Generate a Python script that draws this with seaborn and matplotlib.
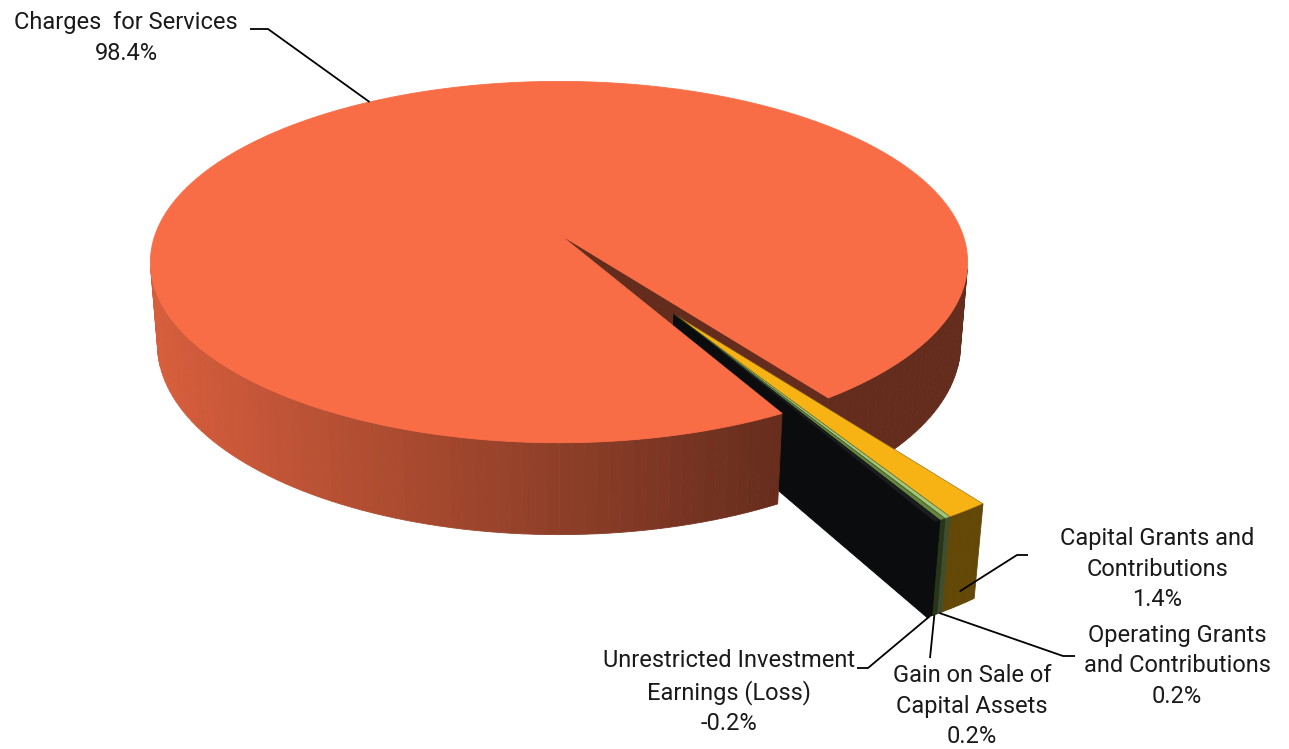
import numpy as np
import matplotlib
matplotlib.use("Agg")
import matplotlib.pyplot as plt
import seaborn as sns
from matplotlib.patches import Polygon
from matplotlib.colors import to_rgb

# ---------------- data ----------------
categories = ["Charges  for Services",
              "Capital Grants and\nContributions",
              "Operating Grants\nand Contributions",
              "Gain on Sale of\nCapital Assets",
              "Unrestricted Investment\nEarnings (Loss)"]
values = [98.4, 1.4, 0.2, 0.2, -0.2]
pct_labels = ["98.4%", "1.4%", "0.2%", "0.2%", "-0.2%"]
colors = ["#F96D46", "#F7B314", "#A3C576", "#66853F", "#1B1D20"]
exploded = [False, True, True, True, True]

# ---------------- style ----------------
sns.set_theme(style="white")
plt.rcParams["font.family"] = ["Roboto", "DejaVu Sans"]

W, H = 1289, 749
fig = plt.figure(figsize=(W / 100, H / 100), dpi=100)
ax = fig.add_axes([0, 0, 1, 1])
ax.set_xlim(0, W)
ax.set_ylim(H, 0)
ax.axis("off")

# ---------------- 3D pie geometry ----------------
elev = np.deg2rad(25.9)
Dcam = 5.79
focal = 2337.0
x0, y0 = 559.0, 234.0
thick = 0.228
explode_dist = 0.50
start_angle = 61.5  # degrees, clockwise on screen

ce, se = np.cos(elev), np.sin(elev)
C = np.array([0.0, Dcam * ce, Dcam * se])
w_ax = np.array([0.0, -ce, -se])
u_ax = np.array([1.0, 0.0, 0.0])
v_ax = np.array([0.0, -se, ce])


def project(P):
    P = np.atleast_2d(P)
    d = P - C
    depth = d @ w_ax
    sx = focal * (d @ u_ax) / depth
    sy = focal * (d @ v_ax) / depth
    return np.column_stack([x0 + sx, y0 - sy])


absvals = np.abs(np.array(values))
spans = absvals / absvals.sum() * 360.0
a_start = start_angle + np.concatenate([[0], np.cumsum(spans)[:-1]])
a_end = a_start + spans

# common explode direction for the exploded group
ex_idx = [i for i, e in enumerate(exploded) if e]
grp_mid = np.deg2rad((a_start[ex_idx[0]] + a_end[ex_idx[-1]]) / 2.0)
offsets = []
for i in range(len(values)):
    if exploded[i]:
        offsets.append(explode_dist * np.array([np.cos(grp_mid), np.sin(grp_mid), 0.0]))
    else:
        offsets.append(np.zeros(3))


def shade(rgb, k):
    return tuple(np.clip(np.array(rgb) * k, 0, 1))


def wall_k(xpix):
    return float(np.clip(0.86 - 0.45 * (xpix - 160) / (783 - 160), 0.40, 0.88))


walls = []   # (distance, polygon pixels, color)
tops = []
for i in range(len(values)):
    base = to_rgb(colors[i])
    o = offsets[i]
    a0, a1 = np.deg2rad(a_start[i]), np.deg2rad(a_end[i])
    n = max(4, int(np.ceil((a_end[i] - a_start[i]) / 1.5)))
    ang = np.linspace(a0, a1, n + 1)
    rim_top = np.column_stack([np.cos(ang), np.sin(ang), np.zeros_like(ang)]) + o
    rim_bot = rim_top - np.array([0, 0, thick])
    # top face
    top_pts = np.vstack([o, rim_top])
    tops.append((project(top_pts), base))
    # outer wall
    for j in range(n):
        quad = np.array([rim_top[j], rim_top[j + 1], rim_bot[j + 1], rim_bot[j]])
        cen = quad.mean(axis=0)
        am = (ang[j] + ang[j + 1]) / 2
        nrm = np.array([np.cos(am), np.sin(am), 0.0])
        if nrm @ (C - cen) <= 0:
            continue
        pq = project(quad)
        k = wall_k(pq[:, 0].mean())
        walls.append((np.linalg.norm(C - cen), pq, shade(base, k)))
    # radial faces
    for a, nrm in ((a0, np.array([np.sin(a0), -np.cos(a0), 0.0])),
                   (a1, np.array([-np.sin(a1), np.cos(a1), 0.0]))):
        dirv = np.array([np.cos(a), np.sin(a), 0.0])
        cen_all = o + 0.5 * dirv - np.array([0, 0, thick / 2])
        if nrm @ (C - cen_all) <= 0:
            continue
        rs = np.linspace(0, 1, 11)
        for j in range(10):
            p1 = o + rs[j] * dirv
            p2 = o + rs[j + 1] * dirv
            quad = np.array([p1, p2, p2 - [0, 0, thick], p1 - [0, 0, thick]])
            cen = quad.mean(axis=0)
            walls.append((np.linalg.norm(C - cen), project(quad), shade(base, 0.40)))

walls.sort(key=lambda t: -t[0])
for _, pq, col in walls:
    ax.add_patch(Polygon(pq, closed=True, facecolor=col, edgecolor=col, lw=0.6, zorder=2))
for idx, (pq, col) in enumerate(tops):
    ec = col if not exploded[idx] else shade(col, 0.55)
    ax.add_patch(Polygon(pq, closed=True, facecolor=col, edgecolor=ec,
                         lw=0.6 if not exploded[idx] else 0.4, zorder=3))

# ---------------- labels & leader lines ----------------
def anchor(i, zfrac, rad=1.0):
    am = np.deg2rad((a_start[i] + a_end[i]) / 2)
    P = offsets[i] + rad * np.array([np.cos(am), np.sin(am), 0.0]) - np.array([0, 0, thick * zfrac])
    return project(P)[0]

label_pos = [(126, 38), (1157, 569), (1177, 666), (972, 706), (729, 692)]
elbows = [[(268, 29), (250, 29)],
          [(1017, 555), (1028, 555)],
          [(1063, 656), (1075, 656)],
          [(930, 658)],
          [(868, 668), (857, 668)]]
anchor_z = [0.0, 0.85, 1.0, 1.0, 1.0]

for i in range(len(values)):
    a = anchor(i, anchor_z[i])
    pts = np.vstack([a, np.array(elbows[i])])
    ax.plot(pts[:, 0], pts[:, 1], color="black", lw=1.3, zorder=4,
            solid_capstyle="butt")
    ax.text(label_pos[i][0], label_pos[i][1], categories[i] + "\n" + pct_labels[i],
            ha="center", va="center", fontsize=17, color="#1a1a1a",
            linespacing=1.40, zorder=5)

fig.savefig("out.png", dpi=100)
